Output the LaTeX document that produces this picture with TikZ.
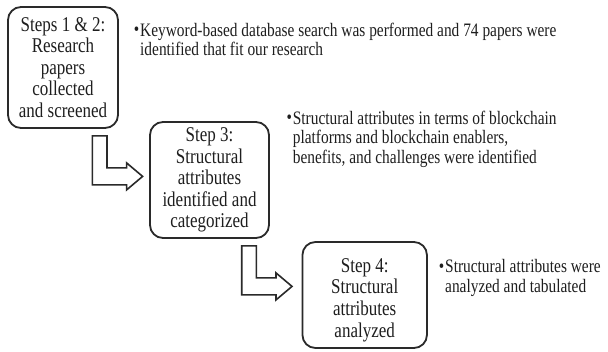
\documentclass[tikz,border=0pt]{standalone}
\usepackage{fontspec}
\setmainfont{Liberation Serif}[FakeStretch=0.81]
\definecolor{ink}{HTML}{1E1E1E}
\definecolor{linegray}{HTML}{2A2A2A}
\newcommand{\boxfont}{\fontsize{21}{21.6}\selectfont}
\newcommand{\notefont}{\fontsize{19}{19.5}\selectfont}
\newcommand{\bulletmark}{\llap{{\fontsize{19}{19}\selectfont\raisebox{0.5pt}{•}}\hspace{1pt}}}
\tikzset{
  stepbox/.style={draw=linegray, line width=1.8pt, rounded corners=13pt,
    align=center, font=\boxfont, inner sep=0pt, text=ink},
  steptext/.style={align=center, font=\boxfont, inner sep=0pt, text=ink},
  note/.style={anchor=base west, align=left, font=\notefont, inner sep=0pt, text=ink},
  arrowline/.style={draw=linegray, line width=1.6pt, fill=white, line join=miter},
  pics/bendarrow/.style={code={
    \draw[arrowline] (0,0) -- (14.7,0) -- (14.7,32) -- (34.3,32) -- (34.3,27)
      -- (50.3,40.5) -- (34.3,54) -- (34.3,49) -- (0,49) -- cycle;}}
}
\begin{document}
\begin{tikzpicture}[x=1pt, y=-1pt]
  % canvas
  \fill[white] (0,0) rectangle (608,351);
  \useasboundingbox (0,0) rectangle (608,351);

  % step boxes
  \node[stepbox, minimum width=110pt, minimum height=121pt] (b1) at (63,67.5)
    {Steps 1 \& 2:\\Research\\papers\\collected\\and screened};
  \node[stepbox, minimum width=119pt, minimum height=116pt] (b2) at (209.5,180)
    {Step 3:\\Structural\\attributes\\identified and\\categorized};
  \node[stepbox, minimum width=124.5pt, minimum height=106pt] (b3) at (364.7,295) {};
  \node[steptext] (t3) at (364.7,300) {Step 4:\\Structural\\attributes\\analyzed};

  % bent block arrows between the steps
  \pic (a1) at ([xshift=29.3pt, yshift=-7pt]b1.south) {bendarrow};
  \pic (a2) at ([xshift=32.2pt, yshift=-7pt]b2.south) {bendarrow};

  % notes beside each step
  \node[note] (n1) at (140,55.7)
    {\bulletmark Keyword-based database search was performed and 74 papers were\\identified that fit our research};
  \node[note] (n2) at (292.7,163.3)
    {\bulletmark Structural attributes in terms of blockchain\\platforms and blockchain enablers,\\benefits, and challenges were identified};
  \node[note] (n3) at (445,292.3)
    {\bulletmark Structural attributes were\\analyzed and tabulated};
\end{tikzpicture}
\end{document}
